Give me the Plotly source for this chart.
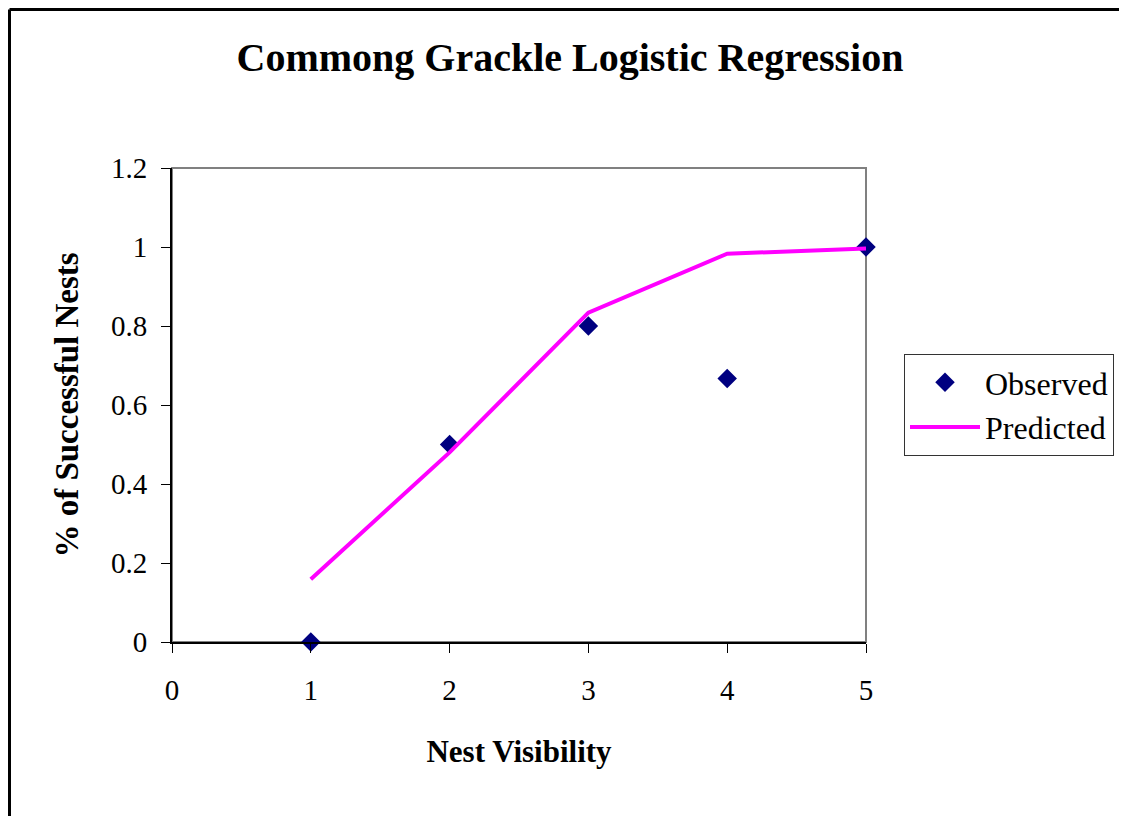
import plotly.graph_objects as go

nest_visibility = [1, 2, 3, 4, 5]
observed = [0.0, 0.5, 0.8, 0.667, 1.0]
predicted = [0.159, 0.48, 0.834, 0.983, 0.996]

x_ticks = [0, 1, 2, 3, 4, 5]
y_ticks = [0, 0.2, 0.4, 0.6, 0.8, 1, 1.2]
y_tick_labels = ["0", "0.2", "0.4", "0.6", "0.8", "1", "1.2"]

FONT = "Liberation Serif"

fig = go.Figure()
fig.add_trace(go.Scatter(
    x=nest_visibility, y=observed, mode="markers", name="Observed",
    marker=dict(symbol="diamond", size=15, color="#000080"),
    cliponaxis=False,
))
fig.add_trace(go.Scatter(
    x=nest_visibility, y=predicted, mode="lines", name="Predicted",
    line=dict(color="#FF00FF", width=4),
    cliponaxis=False,
))

OFF = 8  # page body offset
W, H = 1127 - OFF, 816 - OFF
PL, PR, PT, PB = 172, 866, 168, 642  # plot area in screen pixels
pw, ph = PR - PL, PB - PT
L, T = PL - OFF, PT - OFF
R, B = W - L - pw, H - T - ph

def px(x):
    return (x - PL) / pw

def py(y):
    return (PB - y) / ph

fig.update_layout(
    width=W, height=H,
    margin=dict(l=L, r=R, t=T, b=B, autoexpand=False),
    paper_bgcolor="white", plot_bgcolor="white",
    font=dict(family=FONT, size=28, color="black"),
    title=dict(text="<b>Commong Grackle Logistic Regression</b>",
               x=(570 - OFF) / W, xanchor="center", y=1 - (57 - OFF) / H, yanchor="middle",
               font=dict(family=FONT, size=40, color="black")),
    showlegend=True,
    legend=dict(x=px(904), y=py(354), xanchor="left", yanchor="top",
                bordercolor="#333333", borderwidth=1, bgcolor="white",
                font=dict(family=FONT, size=32), itemwidth=70,
                tracegroupgap=0),
    xaxis=dict(range=[0, 5], tickvals=x_ticks, showgrid=False, zeroline=False,
               showline=True, linecolor="black", linewidth=2,
               ticks="outside", ticklen=9, tickcolor="black", tickwidth=1,
               ticklabelstandoff=12,
               tickfont=dict(family=FONT, size=29),
               title=dict(text="<b>Nest Visibility</b>", standoff=36,
                          font=dict(family=FONT, size=31))),
    yaxis=dict(range=[0, 1.2], tickvals=y_ticks, ticktext=y_tick_labels,
               showgrid=False, zeroline=False,
               showline=True, linecolor="black", linewidth=2,
               ticks="outside", ticklen=9, tickcolor="black", tickwidth=1,
               ticklabelstandoff=8,
               tickfont=dict(family=FONT, size=29),
               title=dict(text="<b>% of Successful Nests</b>", standoff=22,
                          font=dict(family=FONT, size=33))),
    shapes=[
        dict(type="rect", xref="paper", yref="paper", x0=0, y0=0, x1=1, y1=1,
             line=dict(color="#808080", width=2), layer="below"),
        dict(type="line", xref="paper", yref="paper",
             x0=px(OFF + 1.5), y0=py(OFF + 1.5), x1=px(1300), y1=py(OFF + 1.5),
             line=dict(color="black", width=3), layer="above"),
        dict(type="line", xref="paper", yref="paper",
             x0=px(OFF + 1.5), y0=py(OFF + 1.5), x1=px(OFF + 1.5), y1=py(1000),
             line=dict(color="black", width=3), layer="above"),
    ],
)

fig.write_html("out.html")
